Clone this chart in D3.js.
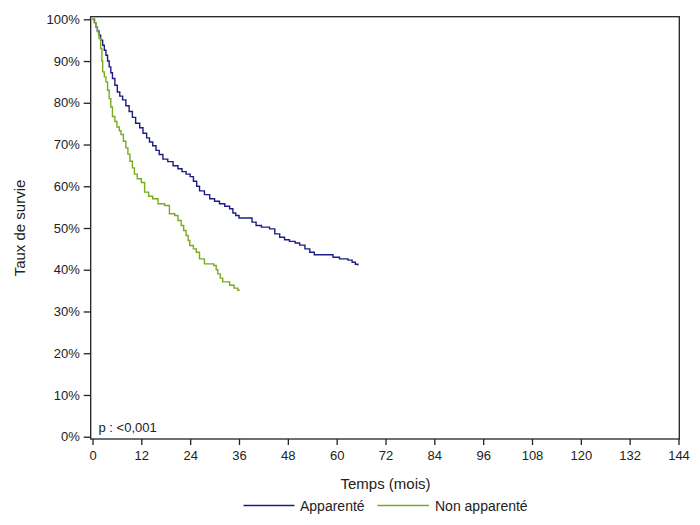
<!DOCTYPE html>
<html>
<head>
<meta charset="utf-8">
<script src="https://cdn.jsdelivr.net/npm/d3@7/dist/d3.min.js"></script>
<style>
  html, body { margin: 0; padding: 0; background: #fff; }
  svg { display: block; }
  text { font-family: Arial, "Liberation Sans", sans-serif; fill: #222; }
</style>
</head>
<body>
<svg id="chart" width="700" height="525"></svg>
<script>
// ---- Data ----
const seriesNames = ["Apparenté", "Non apparenté"];
const seriesColors = ["#1c1c84", "#7aab1e"];

// Apparenté: [time in months, survival %]
const apparenteTimes = [0,0.5,0.8,1.2,1.6,2.0,2.5,2.9,3.3,3.7,4.1,4.5,4.9,5.5,6.1,6.7,7.4,8.2,9.0,9.8,10.6,11.6,12.4,13.3,14.0,14.8,15.6,16.4,17.3,18.5,19.8,21.0,22.0,23.0,24.0,24.8,25.6,26.3,27.5,28.8,30.0,31.2,32.5,33.7,34.5,35.2,36.0,39.2,40.2,41.5,43.5,44.8,46.0,47.2,48.4,49.8,50.9,52.2,53.4,54.5,59.1,60.7,62.8,63.8,64.6,65.2];
const apparenteSurv  = [100,99.2,98.2,97.2,96.2,95.0,93.8,92.6,91.4,90.0,88.6,87.2,85.8,84.2,82.6,81.6,80.7,79.3,77.9,76.5,75.1,74.0,72.7,71.6,70.6,69.7,68.6,67.6,66.5,65.9,64.9,64.2,63.5,62.9,62.3,61.2,60.0,58.9,58.0,57.0,56.4,55.8,55.2,54.6,53.6,53.0,52.4,51.4,50.6,50.2,49.8,48.6,47.8,47.2,46.8,46.4,45.9,45.0,44.2,43.6,43.0,42.6,42.3,41.8,41.3,41.0];

// Non apparenté: [time in months, survival %]
const nonApparenteTimes = [0,0.4,0.8,1.2,1.6,2.0,2.3,2.5,2.9,3.3,3.7,4.1,4.5,4.9,5.5,6.0,6.6,7.0,7.6,8.2,8.7,9.2,9.8,10.3,11.0,12.0,12.8,13.8,14.8,16.1,17.7,18.9,20.2,21.0,21.8,22.4,23.0,23.5,23.9,24.8,25.5,26.3,27.5,29.8,30.4,30.8,31.4,32.0,33.7,34.8,35.7,36.0];
const nonApparenteSurv  = [100,99.2,98.2,97.0,95.4,93.0,90.0,87.4,86.2,85.0,83.0,81.0,79.0,76.7,75.5,74.2,73.3,72.4,70.8,69.2,67.7,66.0,64.4,62.9,61.8,60.9,58.6,57.6,57.0,55.8,55.4,53.4,53.0,51.8,50.6,49.4,48.2,47.0,45.8,45.0,44.2,42.6,41.4,41.0,40.0,39.0,38.0,37.1,36.3,35.6,35.1,34.9];

const xTicks = [0,12,24,36,48,60,72,84,96,108,120,132,144];
const yTicks = [0,10,20,30,40,50,60,70,80,90,100];
const xTitle = "Temps (mois)";
const yTitle = "Taux de survie";
const pValueText = "p : <0,001";

// ---- Drawing ----
const svg = d3.select("#chart");

const frame = { left: 90.7, top: 16.7, right: 679.3, bottom: 439 };
const x = d3.scaleLinear().domain([0, 144]).range([92.5, 678.5]);
const y = d3.scaleLinear().domain([0, 100]).range([436.7, 19.3]);

// frame (top & right borders)
svg.append("rect")
  .attr("x", frame.left).attr("y", frame.top)
  .attr("width", frame.right - frame.left)
  .attr("height", frame.bottom - frame.top)
  .attr("fill", "none").attr("stroke", "#222").attr("stroke-width", 1.3);

// Y axis
const yAxis = d3.axisLeft(y).tickValues(yTicks).tickSize(7).tickPadding(4)
  .tickFormat(d => d + "%");
const gy = svg.append("g").attr("transform", `translate(${frame.left},0)`).call(yAxis);
gy.select(".domain").remove();
gy.selectAll(".tick line").attr("stroke", "#222").attr("stroke-width", 1.3);
gy.selectAll(".tick text").attr("font-size", 13).attr("fill", "#222")
  .style("font-family", 'Arial, "Liberation Sans", sans-serif');

// X axis
const xAxis = d3.axisBottom(x).tickValues(xTicks).tickSize(6).tickPadding(6);
const gx = svg.append("g").attr("transform", `translate(0,${frame.bottom})`).call(xAxis);
gx.select(".domain").remove();
gx.selectAll(".tick line").attr("stroke", "#222").attr("stroke-width", 1.3);
gx.selectAll(".tick text").attr("font-size", 13).attr("fill", "#222")
  .style("font-family", 'Arial, "Liberation Sans", sans-serif');

// Axis titles
svg.append("text")
  .attr("x", (frame.left + frame.right) / 2 + 0.5)
  .attr("y", 489)
  .attr("text-anchor", "middle")
  .attr("font-size", 15)
  .text(xTitle);

svg.append("text")
  .attr("transform", `translate(25,${y(50)}) rotate(-90)`)
  .attr("text-anchor", "middle")
  .attr("font-size", 15)
  .text(yTitle);

// Curves
const line = d3.line()
  .x(d => x(d[0]))
  .y(d => y(d[1]))
  .curve(d3.curveStepAfter);

const series = [
  d3.zip(apparenteTimes, apparenteSurv),
  d3.zip(nonApparenteTimes, nonApparenteSurv)
];

svg.selectAll("path.curve")
  .data(series)
  .join("path")
  .attr("class", "curve")
  .attr("d", line)
  .attr("fill", "none")
  .attr("stroke", (d, i) => seriesColors[i])
  .attr("stroke-width", 1.4);

// p-value
svg.append("text")
  .attr("x", 98.5)
  .attr("y", 432)
  .attr("font-size", 13)
  .text(pValueText);

// Legend
const legendY = 505.5;
const legendItems = [
  { x1: 243.5, x2: 294.5, tx: 300 },
  { x1: 377.5, x2: 429, tx: 435 }
];
legendItems.forEach((it, i) => {
  svg.append("line")
    .attr("x1", it.x1).attr("x2", it.x2)
    .attr("y1", legendY).attr("y2", legendY)
    .attr("stroke", seriesColors[i]).attr("stroke-width", 1.4);
  svg.append("text")
    .attr("x", it.tx).attr("y", legendY + 5)
    .attr("font-size", 14)
    .text(seriesNames[i]);
});
</script>
</body>
</html>
